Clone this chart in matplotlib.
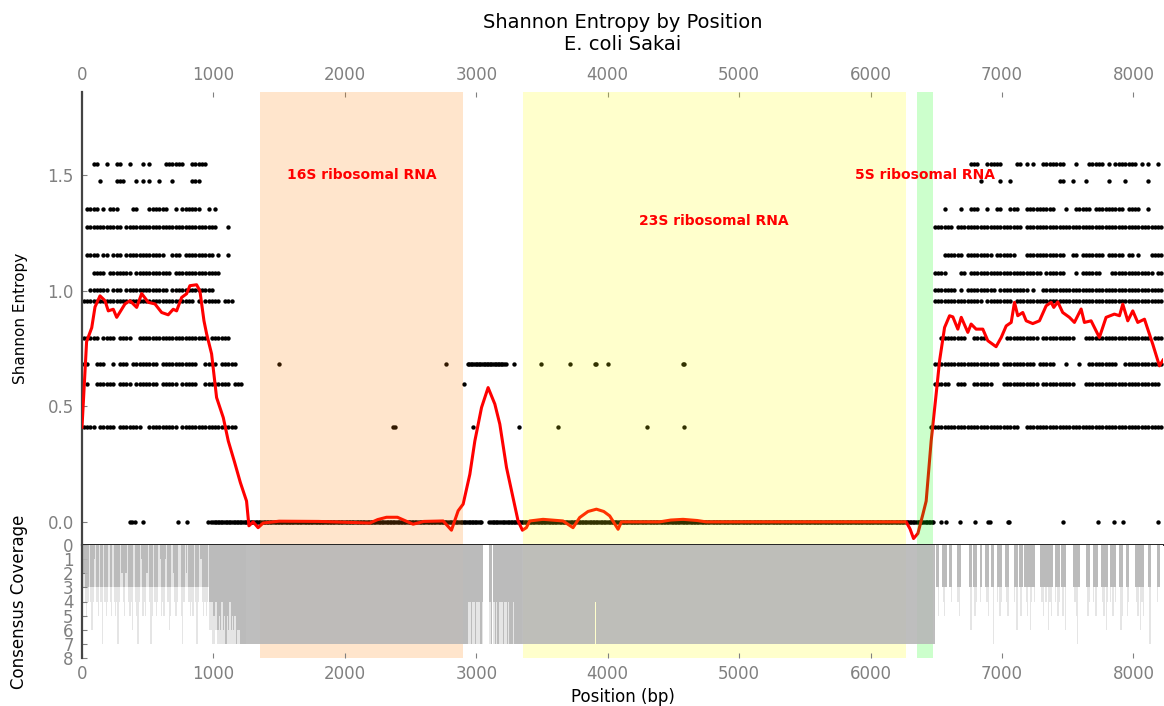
import numpy as np
import matplotlib
matplotlib.use("Agg")
import matplotlib.pyplot as plt

# ---------------- data ----------------
X_MAX = 8225
Y_MIN, Y_MAX = -0.1, 1.86

# entropy levels (natural log entropy for 7 sequences)
LEVELS = [0.410, 0.598, 0.683, 0.796, 0.956, 1.004, 1.079, 1.154, 1.277, 1.352, 1.475, 1.550]

# dots: 25-bp bins with a dot, left block starts at 0 bp, right block at 6350 bp
DOT_BIN = 25
LEFT_START = 0
RIGHT_START = 6350
ROWS_LEFT = [
    "0-3 5-9 11-17 20-28 30-46",
    "1 4-9 11-14 16-22 24-28 30-34 37-44 46-48",
    "0-1 4-6 9 11-13 15-22 24-34 37-40 42-46",
    "0-4 6-9 11-14 17-37 39-44",
    "0-33 35 37-41 43-45",
    "2-7 9-11 13-25 27-39",
    "3-6 8-14 16-26 28-41",
    "1-4 6-7 9-11 13-24 27-29 31-39 41 44",
    "1-11 13-40 44",
    "1-4 6 8-10 15-16 20-25 28 30-35 38 40",
    "5 10-12 16 18 20 23 27 33-35",
    "3-4 7 10-11 14 18 20 25-30 33-37",
]
ROWS_RIGHT = [
    "4-30 33-74",
    "5-9 12-14 17-22 26-36 38-47 51-73",
    "5-24 26-35 37-41 45 49 52-60 63-74",
    "7-14 17-20 27-36 38-47 51-70 72-74",
    "5-19 21-28 30-74",
    "5-11 13 15-23 25-33 35 38-74",
    "5-8 13-14 16-37 39-44 48 50-55 59-71 73-74",
    "8-13 15-22 24-29 33-44 47-48 50-56 58-62 64-65 67 71-74",
    "5-10 12-31 33-74",
    "8 13 16-18 21 24-25 28-30 33-41 45 48-52 54-62 64-67 70",
    "19 25 28 43-44 47 51 58 63 70",
    "16-18 21-25 30-31 33 35 38-44 48 52-56 58 60-66 68 70 73",
]

# isolated dots in the middle of the alignment
MID_X = [1498, 2773, 3285, 3496, 3711, 3900, 3912, 4000, 4575, 4583,
         2905, 2365, 2380, 2975, 3323, 3620, 4302, 4578]
MID_Y = [0.683, 0.683, 0.683, 0.683, 0.683, 0.683, 0.683, 0.683, 0.683, 0.683,
         0.598, 0.410, 0.410, 0.410, 0.410, 0.410, 0.410, 0.410]
MID_RUNS = [(2935, 3232, 0.683)]

# zero-entropy dots
ZERO_X = [365, 380, 403, 466, 733, 796, 960,
          6537, 6575, 6684, 6798, 6893, 6910, 7045, 7052, 7467, 7734, 7855, 7924, 8190]
ZERO_RUNS = [(985, 3045), (3100, 3176), (3190, 6480)]
RUN_STEP = 12

# rolling mean of entropy (red line)
ROLL_X = [0, 35, 74, 99, 137, 175, 200, 238, 264, 327, 365, 416, 454, 504, 555, 606, 656,
          694, 720, 758, 796, 821, 872, 897, 928, 948, 986, 1024, 1075, 1113, 1160, 1205,
          1252, 1270, 1302, 1340, 1378, 1500, 1800, 2190, 2250, 2317, 2400, 2440, 2519, 2600,
          2748, 2811, 2862, 2900, 2951, 2989, 3040, 3090, 3141, 3179, 3230, 3280, 3318, 3351,
          3381, 3407, 3508, 3660, 3736, 3787, 3850, 3914, 3970, 4015, 4079, 4104, 4395, 4480,
          4573, 4680, 4750, 6271, 6300, 6327, 6360, 6398, 6423, 6461, 6499, 6525, 6563, 6601,
          6626, 6664, 6690, 6740, 6765, 6803, 6854, 6892, 6955, 6994, 7032, 7070, 7095, 7120,
          7158, 7184, 7234, 7285, 7336, 7374, 7394, 7424, 7462, 7513, 7551, 7602, 7627, 7678,
          7741, 7792, 7855, 7894, 7919, 7957, 7995, 8033, 8084, 8147, 8198, 8225]
ROLL_Y = [0.41, 0.78, 0.84, 0.93, 0.978, 0.957, 0.913, 0.92, 0.885, 0.943, 0.957, 0.928,
          0.988, 0.95, 0.943, 0.906, 0.896, 0.92, 0.913, 0.971, 0.987, 1.022, 1.026, 1.0,
          0.87, 0.814, 0.727, 0.538, 0.451, 0.35, 0.26, 0.17, 0.09, -0.017, 0.0, -0.025,
          -0.005, 0.003, 0.002, -0.005, 0.01, 0.02, 0.02, 0.01, -0.01, 0.002, 0.004, -0.036,
          0.048, 0.077, 0.206, 0.35, 0.495, 0.581, 0.51, 0.423, 0.235, 0.105, 0.004, -0.036,
          -0.025, 0.004, 0.011, 0.004, -0.025, 0.019, 0.045, 0.055, 0.045, 0.026, -0.032, 0.0,
          0.0, 0.008, 0.011, 0.006, 0.0, 0.0, -0.03, -0.072, -0.05, 0.033, 0.09, 0.35, 0.553,
          0.697, 0.841, 0.892, 0.887, 0.834, 0.885, 0.82, 0.856, 0.834, 0.834, 0.784, 0.758,
          0.798, 0.848, 0.863, 0.95, 0.892, 0.906, 0.87, 0.858, 0.87, 0.935, 0.95, 0.928, 0.952,
          0.906, 0.885, 0.863, 0.921, 0.863, 0.87, 0.798, 0.885, 0.899, 0.892, 0.942, 0.87,
          0.913, 0.863, 0.877, 0.769, 0.675, 0.70]

# annotated features
FEAT_NAMES = ["16S ribosomal RNA", "23S ribosomal RNA", "5S ribosomal RNA"]
FEAT_START = [1354, 3356, 6352]
FEAT_END = [2897, 6266, 6474]
FEAT_COLORS = ["#ff8000", "#ffff00", "#00ff00"]
FEAT_LABEL_Y = [1.5, 1.3, 1.5]

# consensus coverage, 10-bp bins, digit = number of sequences covering the bin
# (solid = covered by nearly all columns of the bin, faint = reached by a few columns)
COV_BIN = 10
COV_LEFT_START = 0
COV_LEFT_SOLID = """02 333 0 333 10 33 0 33 0 333 0 33 0 33333 02 33 20 3333 0 3333 01 333 20 333 0
                    333 01 333 10 333 02 333 00 333 020 3333 0 333 01 33333 0 444544
                    65646575646565 7667 7777"""
COV_LEFT_FAINT = """33 454 3 464 33 45 3 47 3 454 3 45 3 45474 33 45 33 4546 3 4574 33 545 33 475 3
                    454 33 545 33 465 33 454 33 574 333 4545 3 474 33 45454 3 667766
                    77777777777777 7777 7777"""
COV_MID_START = 2900
COV_MID_SOLID = "7777 44744744474 00000 470474744 474474 7774777777"
COV_MID_FAINT = "7777 77777777777 00000 770777777 777777 7777777777"
COV_RIGHT_START = 6480
COV_RIGHT_SOLID = """7033 00 3333 00 33 0000 333 000000 33 0 333 00 33 00 333 00 33 00 3333 00 333 0000
                     333 0 333 0 33333333 0000 3333333333 0 3333 0 3333 00000 33333 00000 333 00
                     3333 00 333333 0 33333 00 333 00 333 0000 3333333 000 33 00000 33 000"""
COV_RIGHT_FAINT = """6035 00 3453 00 34 0000 453 000000 36 0 354 00 43 00 345 00 37 00 4354 00 345 0000
                     436 0 353 0 34536434 0000 3453436453 0 4354 0 3536 00000 34573 00000 354 00
                     4353 00 345364 0 43534 00 365 00 354 0000 3453645 000 37 00000 43 000"""
COV_SEGMENTS = [(1250, 2900, 7), (3350, 3900, 7), (3900, 3908, 4), (3908, 6480, 7)]
COV_MAX = 8


def expand(spec):
    out = []
    for tok in spec.split():
        if "-" in tok:
            a, b = tok.split("-")
            out.extend(range(int(a), int(b) + 1))
        else:
            out.append(int(tok))
    return out


def cov_bars(start, s):
    s = "".join(s.split())
    xs, hs = [], []
    for i, c in enumerate(s):
        if c != "0":
            xs.append(start + i * COV_BIN)
            hs.append(int(c))
    return xs, hs


# ---------------- figure ----------------
W, H = 1164, 706
fig = plt.figure(figsize=(W / 100, H / 100), dpi=100)
L, R = 82, 1163
T1, B1, B2 = 92, 545, 658
ax1 = fig.add_axes([L / W, 1 - B1 / H, (R - L) / W, (B1 - T1) / H])
ax2 = fig.add_axes([L / W, 1 - B2 / H, (R - L) / W, (B2 - B1) / H], sharex=ax1)

# dots
dx, dy = [], []
for lev, spec in zip(LEVELS, ROWS_LEFT):
    for b in expand(spec):
        dx.append(LEFT_START + (b + 0.5) * DOT_BIN)
        dy.append(lev)
for lev, spec in zip(LEVELS, ROWS_RIGHT):
    for b in expand(spec):
        dx.append(RIGHT_START + (b + 0.5) * DOT_BIN)
        dy.append(lev)
dx += MID_X
dy += MID_Y
for a, b, lev in MID_RUNS:
    for x in np.arange(a, b, RUN_STEP):
        dx.append(x)
        dy.append(lev)
for x in ZERO_X:
    dx.append(x)
    dy.append(0.0)
for a, b in ZERO_RUNS:
    for x in np.arange(a, b, RUN_STEP):
        dx.append(x)
        dy.append(0.0)
ax1.scatter(dx, dy, s=10, color="black", linewidths=0, zorder=2)

ax1.plot(ROLL_X, ROLL_Y, color="red", lw=2.2, zorder=3, solid_joinstyle="round")

for name, a, b, c, ly in zip(FEAT_NAMES, FEAT_START, FEAT_END, FEAT_COLORS, FEAT_LABEL_Y):
    ax1.axvspan(a, b, color=c, alpha=0.2, lw=0, zorder=4)
    ax2.axvspan(a, b, color=c, alpha=0.2, lw=0, zorder=0)
    ax1.text((a + b) / 2, ly, name, color="red", fontsize=10, fontweight="bold",
             ha="center", va="center", zorder=5)

# coverage bars: faint layer then solid layer
COV_COLOR = "#b7b7b7"
for start, s in ((COV_LEFT_START, COV_LEFT_FAINT), (COV_MID_START, COV_MID_FAINT),
                 (COV_RIGHT_START, COV_RIGHT_FAINT)):
    xs, hs = cov_bars(start, s)
    ax2.bar(xs, hs, width=COV_BIN, align="edge", color=COV_COLOR, alpha=0.35,
            linewidth=0, zorder=1)
sx, sh, sw = [], [], []
for start, s in ((COV_LEFT_START, COV_LEFT_SOLID), (COV_MID_START, COV_MID_SOLID),
                 (COV_RIGHT_START, COV_RIGHT_SOLID)):
    xs, hs = cov_bars(start, s)
    sx += xs
    sh += hs
    sw += [COV_BIN] * len(xs)
for a, b, v in COV_SEGMENTS:
    sx.append(a)
    sh.append(v)
    sw.append(b - a)
ax2.bar(sx, sh, width=sw, align="edge", color=COV_COLOR, alpha=0.9, linewidth=0, zorder=2)

# axes styling
ax1.set_xlim(0, X_MAX)
ax1.set_ylim(Y_MIN, Y_MAX)
ax2.set_ylim(COV_MAX, 0)

for sp in ("top", "right"):
    ax1.spines[sp].set_visible(False)
ax1.spines["left"].set_color("#444444")
ax1.spines["left"].set_linewidth(1.6)
ax1.spines["bottom"].set_color("#222222")
ax1.spines["bottom"].set_linewidth(1.4)
ax1.spines["bottom"].set_zorder(6)
for sp in ("top", "right", "bottom"):
    ax2.spines[sp].set_visible(False)
ax2.spines["left"].set_color("#444444")
ax2.spines["left"].set_linewidth(1.6)

xt = np.arange(0, 8001, 1000)
ax1.xaxis.tick_top()
ax1.set_xticks(xt)
ax1.set_xticklabels([str(v) for v in xt])
ax1.tick_params(axis="x", which="both", top=True, bottom=False, labeltop=True, labelbottom=False,
                direction="in", length=3.5, width=0.8, color="gray", labelcolor="gray",
                labelsize=12, pad=6)
ax1.set_yticks([0.0, 0.5, 1.0, 1.5])
ax1.set_yticklabels(["0.0", "0.5", "1.0", "1.5"])
ax1.tick_params(axis="y", direction="in", length=3.5, width=0.8, color="gray",
                labelcolor="gray", labelsize=12, pad=6, right=False)

ax2.xaxis.tick_bottom()
ax2.tick_params(axis="x", which="both", top=False, bottom=True, labelbottom=True, labeltop=False,
                direction="in", length=3.5, width=0.8, color="gray", labelcolor="gray",
                labelsize=12, pad=5)
ax2.set_yticks(range(0, COV_MAX + 1))
ax2.set_yticklabels([str(v) for v in range(0, COV_MAX + 1)])
ax2.tick_params(axis="y", direction="in", length=3.5, width=0.8, color="gray",
                labelcolor="gray", labelsize=12, pad=6, right=False)

ax1.set_ylabel("Shannon Entropy", fontsize=11)
ax1.yaxis.set_label_coords(-0.05, 0.5)
ax2.set_ylabel("Consensus Coverage", fontsize=12)
ax2.yaxis.set_label_coords(-0.05, 0.5)
ax2.set_xlabel("Position (bp)", fontsize=12, labelpad=4)

ax1.set_title("Shannon Entropy by Position\nE. coli Sakai", fontsize=14, y=1.0927, pad=0)

fig.savefig("out.png", dpi=100)
